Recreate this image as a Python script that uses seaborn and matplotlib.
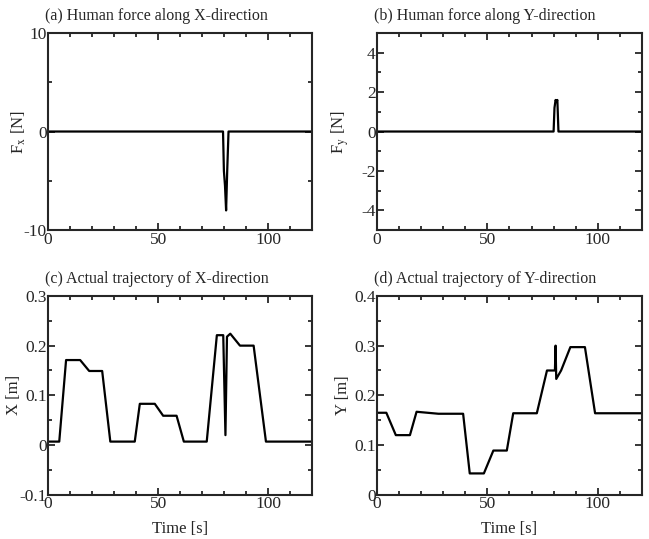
import numpy as np
import pandas as pd
import seaborn as sns
import matplotlib.pyplot as plt
from matplotlib.ticker import MultipleLocator

# human force, X direction
fx_t = [0, 79.5, 79.9, 80.4, 80.9, 81.4, 82.0, 120]
fx_v = [0, 0, -4.0, -5.5, -8.0, -4.0, 0, 0]

# human force, Y direction
fy_t = [0, 80.0, 80.4, 80.9, 81.3, 81.7, 82.2, 120]
fy_v = [0, 0, 1.2, 1.6, 1.5, 1.6, 0, 0]

# actual trajectory, X
x_t = [0, 5.1, 8.2, 14.6, 18.7, 24.6, 28.3, 39.4, 41.7, 48.5, 52.3, 58.4,
       61.7, 72.1, 76.7, 79.6, 80.6, 81.3, 82.8, 87.2, 93.4, 99.0, 120]
x_v = [0.007, 0.007, 0.171, 0.171, 0.149, 0.149, 0.007, 0.007, 0.083, 0.083,
       0.059, 0.059, 0.007, 0.007, 0.221, 0.221, 0.02, 0.218, 0.224, 0.2,
       0.2, 0.007, 0.007]

# actual trajectory, Y
y_t = [0, 4.2, 8.5, 14.9, 17.9, 27.8, 39.0, 42.0, 48.4, 52.7, 58.8, 61.7,
       72.4, 77.0, 80.6, 80.9, 81.2, 83.4, 87.6, 94.2, 98.8, 120]
y_v = [0.165, 0.165, 0.12, 0.12, 0.167, 0.163, 0.163, 0.043, 0.043, 0.089,
       0.089, 0.164, 0.164, 0.25, 0.25, 0.30, 0.233, 0.25, 0.297, 0.297,
       0.164, 0.164]

sns.set_style("ticks")
plt.rcParams['font.family'] = ['Liberation Serif', 'DejaVu Serif']
plt.rcParams['mathtext.fontset'] = 'stix'
plt.rcParams['axes.unicode_minus'] = False

fig = plt.figure(figsize=(6.49, 5.39), dpi=100)

panels = [
    # rect, t, v, ylim, major, minor, ylabel, title, xlabel, ylabel x
    ([0.074, 0.573, 0.407, 0.366], fx_t, fx_v, (-10, 10), 10, 5,
     r'F$_{\rm x}$ [N]', '(a) Human force along X-direction', None, -0.076),
    ([0.581, 0.573, 0.408, 0.366], fy_t, fy_v, (-5, 5), 2, 1,
     r'F$_{\rm y}$ [N]', '(b) Human force along Y-direction', None, -0.098),
    ([0.074, 0.082, 0.407, 0.369], x_t, x_v, (-0.1, 0.3), 0.1, 0.05,
     'X [m]', '(c) Actual trajectory of X-direction', 'Time [s]', -0.1),
    ([0.581, 0.082, 0.408, 0.369], y_t, y_v, (0, 0.4), 0.1, 0.05,
     'Y [m]', '(d) Actual trajectory of Y-direction', 'Time [s]', -0.1),
]

for rect, t, v, ylim, major, minor, ylab, title, xlab, ylx in panels:
    ax = fig.add_axes(rect)
    df = pd.DataFrame({'t': t, 'v': v})
    sns.lineplot(data=df, x='t', y='v', ax=ax, color='black', lw=1.6,
                 sort=False, estimator=None)
    ax.set_xlim(0, 120)
    ax.set_ylim(*ylim)
    ax.xaxis.set_major_locator(MultipleLocator(50))
    ax.xaxis.set_minor_locator(MultipleLocator(10))
    ax.yaxis.set_major_locator(MultipleLocator(major))
    ax.yaxis.set_minor_locator(MultipleLocator(minor))
    ax.tick_params(which='both', direction='in', top=True, right=True,
                   width=1.3, labelsize=12.5, pad=1)
    ax.tick_params(which='major', length=5)
    ax.tick_params(which='minor', length=3)
    for s in ax.spines.values():
        s.set_linewidth(1.5)
    if major >= 1:
        ax.yaxis.set_major_formatter(plt.FuncFormatter(lambda y, p: '%g' % y))
    else:
        ax.yaxis.set_major_formatter(plt.FuncFormatter(
            lambda y, p: '0' if abs(y) < 1e-9 else '%.1f' % y))
    ax.set_ylabel(ylab, fontsize=12)
    ax.yaxis.set_label_coords(ylx, 0.5)
    ax.set_xlabel(xlab if xlab else '', fontsize=12, labelpad=6)
    ax.set_title(title, fontsize=11.5, loc='left', x=-0.01, pad=9)

fig.savefig('out.png', dpi=100)
